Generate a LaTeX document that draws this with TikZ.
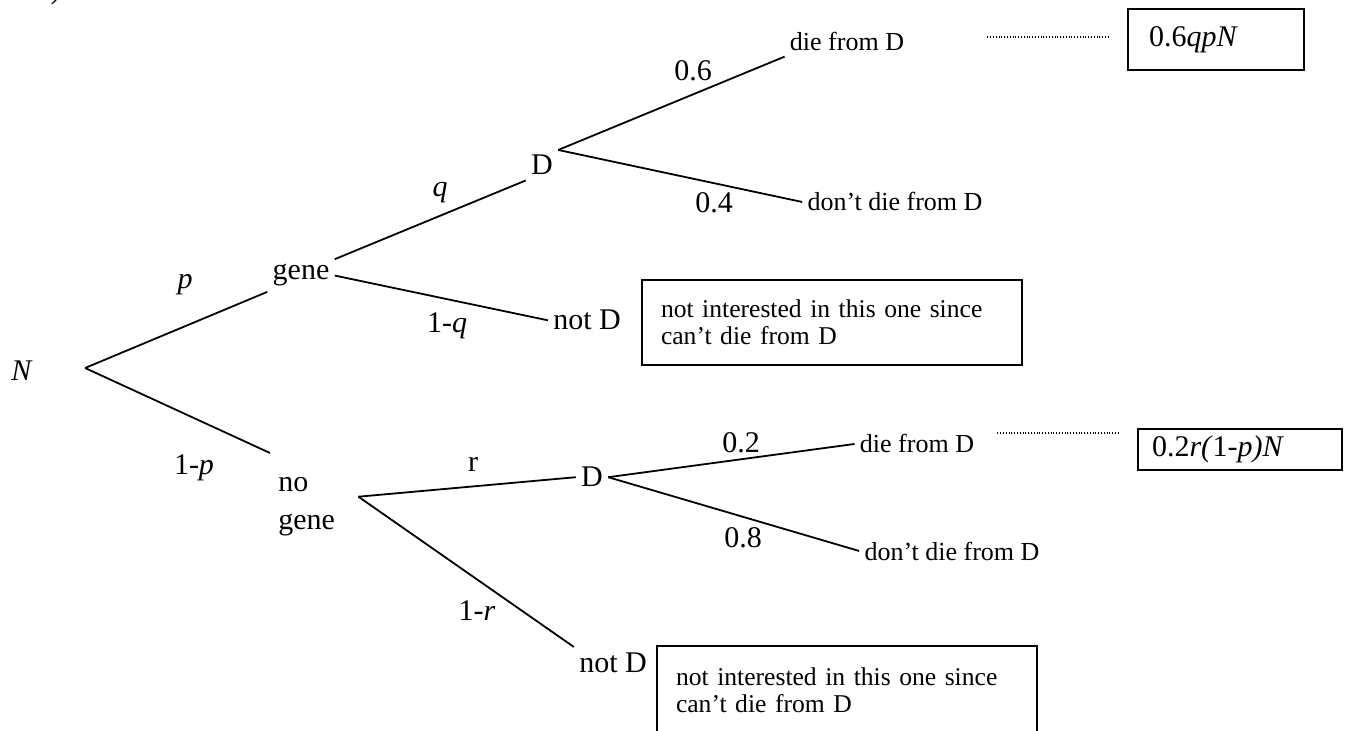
\documentclass[tikz,border=0pt]{standalone}
\usepackage{fontspec}
\setmainfont{Liberation Serif}
\usetikzlibrary{positioning,calc}

\begin{document}
\begin{tikzpicture}[
  x=0.5pt, y=-0.5pt,
  lab/.style={font=\fontsize{15}{19}\selectfont, inner sep=2.5pt, anchor=base},
  small/.style={font=\fontsize{13}{13.5}\selectfont, inner sep=2.5pt, anchor=base},
  branch/.style={line width=0.9pt},
  dotline/.style={line width=0.6pt, dash pattern=on 0.4pt off 1pt},
  notebox/.style={draw, line width=1pt, anchor=north west, align=left, text width=171pt,
    inner xsep=9.5pt, inner ysep=10pt, font=\fontsize{12.8}{13.5}\selectfont},
  resbox/.style={draw, line width=1pt, anchor=north west, align=left, font=\fontsize{15}{18}\selectfont},
]
\useasboundingbox (0,0) rectangle (1349,731);

% === left over from the page above ===
\node[lab, anchor=base west] (part) at (32,-1) {c)};

% === Tree nodes ===
\node[lab] (N) at (22,381) {\textit{N}};
\node[lab] (gene) at (301,280) {gene};
\node[lab, anchor=north west, align=left] (nogene) at (273,472) {no\\gene};
\node[lab] (Dup) at (542,175) {D};
\node[lab] (notDup) at (587,330) {not D};
\node[lab] (Dlow) at (592,487) {D};
\node[lab] (notDlow) at (613,672) {not D};
\node[small] (dieup) at (847,51) {die from D};
\node[small] (dontup) at (895,211) {don't die from D};
\node[small] (dielow) at (917,453) {die from D};
\node[small] (dontlow) at (952,560) {don't die from D};

\coordinate (Nfork) at ([xshift=23.5pt, yshift=6.5pt]N.base east);
\coordinate (ngfork) at ([xshift=9pt, yshift=5pt]nogene.east);

% === Branches ===
\draw[branch] (Nfork) -- (gene.south west);
\draw[branch] (Nfork) -- ([xshift=-1.5pt, yshift=9.5pt]nogene.north west);
\draw[branch] (gene.north east) -- (Dup.south west);
\draw[branch] (gene.east) -- (notDup.west);
\draw[branch] (Dup.north east) -- (dieup.south west);
\draw[branch] (Dup.north east) -- (dontup.west);
\draw[branch] (ngfork) -- (Dlow.west);
\draw[branch] (ngfork) -- (notDlow.north west);
\draw[branch] (Dlow.east) -- (dielow.west);
\draw[branch] (Dlow.east) -- (dontlow.west);

% === Probabilities ===
\node[lab] (pp) at (185,289) {\textit{p}};
\node[lab] (pn) at (194,475) {1-\textit{p}};
\node[lab] (qp) at (440,197) {\textit{q}};
\node[lab] (qn) at (447,333) {1-\textit{q}};
\node[lab] (rp) at (473,472) {r};
\node[lab] (rn) at (477,620) {1-\textit{r}};
\node[lab] (sixp) at (693,81) {0.6};
\node[lab] (fourp) at (714,213) {0.4};
\node[lab] (twop) at (741,453) {0.2};
\node[lab] (eightp) at (743,548) {0.8};

% === Notes and results ===
\node[notebox] (noteA) at (641,279) {not interested in this one since\\can't die from D};
\node[notebox, minimum height=44pt] (noteB) at (656,645) {not interested in this one since\\can't die from D};

\node[resbox, text width=67pt, inner xsep=10.5pt, minimum height=30.5pt] (resA) at (1127,8) {0.6\textit{qpN}};
\node[resbox, text width=88pt, inner xsep=7pt, minimum height=19pt] (resB) at (1137,428) {0.2\textit{r(}1-\textit{p)N}};

\draw[dotline, shorten <=39pt, shorten >=8.5pt] ($(dieup.east)+(0,-5)$) -- ($(dieup.east -| resA.west)+(0,-5)$);
\draw[dotline, shorten <=9pt, shorten >=8.5pt] ($(dielow.east)+(0,-11)$) -- ($(dielow.east -| resB.west)+(0,-11)$);

\end{tikzpicture}
\end{document}
